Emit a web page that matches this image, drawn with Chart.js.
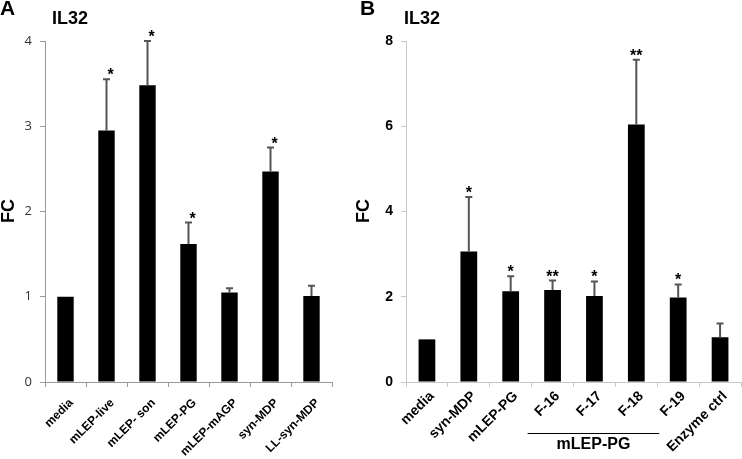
<!DOCTYPE html>
<html>
<head>
<meta charset="utf-8">
<script src="https://cdn.jsdelivr.net/npm/chart.js@4.4.1/dist/chart.umd.min.js"></script>
<style>
  body { margin: 0; background: #fff; }
  #wrapA { position: absolute; left: 0; top: 0; width: 356px; height: 459px; }
  #wrapB { position: absolute; left: 356px; top: 0; width: 386px; height: 459px; }
</style>
</head>
<body>
<div id="wrapA"><canvas id="chartA"></canvas></div>
<div id="wrapB"><canvas id="chartB"></canvas></div>
<script>
// Panel A data
const catsA = ["media", "mLEP-live", "mLEP- son", "mLEP-PG", "mLEP-mAGP", "syn-MDP", "LL-syn-MDP"];
const valsA = [1.0, 2.95, 3.48, 1.62, 1.05, 2.47, 1.01];
const errA = [0, 0.6, 0.52, 0.25, 0.05, 0.28, 0.12];
const starsA = ["", "*", "*", "*", "", "*", ""];
const ticksA = [0, 1, 2, 3, 4];

// Panel B data
const catsB = ["media", "syn-MDP", "mLEP-PG", "F-16", "F-17", "F-18", "F-19", "Enzyme ctrl"];
const valsB = [1.0, 3.06, 2.13, 2.16, 2.02, 6.04, 1.98, 1.05];
const errB = [0, 1.28, 0.35, 0.22, 0.34, 1.52, 0.31, 0.32];
const starsB = ["", "*", "*", "**", "*", "**", "*", ""];
const ticksB = [0, 2, 4, 6, 8];
const groupB = { from: 3, to: 6, label: "mLEP-PG" };

// error bars, stars, rotated category labels and panel texts
const annotate = {
  id: "annotate",
  afterDraw(chart, args, o) {
    const ctx = chart.ctx;
    const y = chart.scales.y;
    const x = chart.scales.x;
    ctx.save();
    chart.getDatasetMeta(0).data.forEach((bar, i) => {
      const yTop = y.getPixelForValue(o.values[i] + o.errors[i]);
      if (o.errors[i] > 0) {
        ctx.strokeStyle = "#555";
        ctx.lineWidth = 2;
        ctx.beginPath();
        ctx.moveTo(bar.x, bar.y);
        ctx.lineTo(bar.x, yTop);
        ctx.moveTo(bar.x - 3.5, yTop);
        ctx.lineTo(bar.x + 3.5, yTop);
        ctx.stroke();
      }
      if (o.stars[i]) {
        ctx.fillStyle = "#000";
        ctx.font = "bold 16px 'Liberation Sans'";
        ctx.textAlign = "center";
        ctx.textBaseline = "alphabetic";
        ctx.fillText(o.stars[i], bar.x + o.starShift, yTop + 1);
      }
    });

    // category labels at 45 degrees
    ctx.fillStyle = "#000";
    ctx.font = o.labelFont;
    ctx.textAlign = "right";
    ctx.textBaseline = "middle";
    chart.data.labels.forEach((lab, i) => {
      ctx.save();
      ctx.translate(x.getPixelForValue(i) + o.labelDx, x.top + o.labelDy);
      ctx.rotate(-Math.PI / 4);
      ctx.fillText(lab, 0, 0);
      ctx.restore();
    });

    ctx.textAlign = "left";
    ctx.font = "bold 21px 'Liberation Sans'";
    ctx.fillText(o.letter, o.letterX, 9);
    ctx.font = "bold 18px 'Liberation Sans'";
    ctx.fillText("IL32", o.titleX, 19);

    ctx.save();
    ctx.translate(o.fcX, 211);
    ctx.rotate(-Math.PI / 2);
    ctx.textAlign = "center";
    ctx.font = "bold 18px 'Liberation Sans'";
    ctx.fillText("FC", 0, 0);
    ctx.restore();

    if (o.group) {
      const w = x.getPixelForValue(1) - x.getPixelForValue(0);
      const x0 = x.getPixelForValue(o.group.from) - w / 2 - 4;
      const x1 = x.getPixelForValue(o.group.to) - w / 2 + 2;
      ctx.strokeStyle = "#000";
      ctx.lineWidth = 1.2;
      ctx.beginPath();
      ctx.moveTo(x0, 433.5);
      ctx.lineTo(x1, 433.5);
      ctx.stroke();
      ctx.textAlign = "center";
      ctx.font = "bold 16px 'Liberation Sans'";
      ctx.fillText(o.group.label, (x0 + x1) / 2, 445);
    }
    ctx.restore();
  }
};

function makeChart(id, cats, vals, yTicks, axisColor, tickColor, tickFont, padRight, yWidth, extra) {
  return new Chart(document.getElementById(id), {
    type: "bar",
    data: {
      labels: cats,
      datasets: [
        {
          data: vals,
          backgroundColor: "#000",
          barPercentage: 0.4,
          categoryPercentage: 1,
        },
      ],
    },
    plugins: [annotate],
    options: {
      responsive: true,
      maintainAspectRatio: false,
      animation: false,
      layout: { padding: { left: 0, right: padRight, top: 41, bottom: 0 } },
      plugins: {
        legend: { display: false },
        tooltip: { enabled: false },
        annotate: Object.assign({ values: vals }, extra),
      },
      scales: {
        x: {
          grid: { drawOnChartArea: false, color: axisColor, tickLength: 5, offset: true },
          border: { color: axisColor, width: 1 },
          ticks: { display: false },
          afterFit: (s) => { s.height = 77; },
        },
        y: {
          min: yTicks[0],
          max: yTicks[yTicks.length - 1],
          afterBuildTicks: (s) => { s.ticks = yTicks.map((v) => ({ value: v })); },
          grid: { drawOnChartArea: false, color: axisColor, tickLength: 5 },
          border: { color: axisColor, width: 1 },
          ticks: { color: tickColor, font: tickFont, padding: 8 },
          afterFit: (s) => { s.width = yWidth; },
        },
      },
    },
  });
}

makeChart("chartA", catsA, valsA, ticksA, "#9a9a9a", "#333",
  { family: "'Open Sans'", size: 13 },
  24, 45,
  { errors: errA, stars: starsA, starShift: 4, letter: "A", letterX: 0, titleX: 52, fcX: 9,
    labelFont: "bold 12px 'Liberation Sans'", labelDx: 6, labelDy: 19 });

makeChart("chartB", catsB, valsB, ticksB, "#c8c8c8", "#000",
  { family: "'Liberation Sans'", size: 14, weight: "bold" },
  1, 50,
  { errors: errB, stars: starsB, starShift: 0, letter: "B", letterX: 4, titleX: 48, fcX: 8, group: groupB,
    labelFont: "bold 14px 'Liberation Sans'", labelDx: 5, labelDy: 12 });
</script>
</body>
</html>
